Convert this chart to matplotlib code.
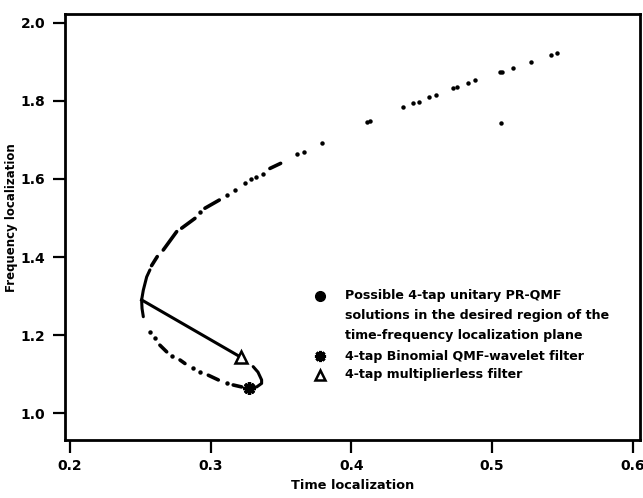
import matplotlib
matplotlib.use("Agg")
import matplotlib.pyplot as plt

plt.rcParams['font.family'] = ['DejaVu Sans']

# ---- data ----
# isolated solution dots (time, frequency)
dot_x = [0.2924, 0.3113, 0.3172, 0.3243, 0.3284, 0.3322, 0.3369, 0.3615, 0.3662, 0.3790,
         0.411, 0.413, 0.437, 0.444, 0.448, 0.455, 0.460, 0.472, 0.475, 0.483, 0.488,
         0.5055, 0.507, 0.515, 0.528, 0.542, 0.546, 0.506,
         0.2568, 0.2604, 0.2722, 0.2876, 0.2924, 0.3113]
dot_y = [1.515, 1.559, 1.572, 1.589, 1.599, 1.606, 1.613, 1.664, 1.670, 1.693,
         1.747, 1.749, 1.784, 1.794, 1.798, 1.809, 1.815, 1.833, 1.835, 1.847, 1.853,
         1.874, 1.875, 1.885, 1.901, 1.918, 1.922, 1.744,
         1.208, 1.192, 1.146, 1.115, 1.106, 1.078]

# short dashes (dense runs of solutions): start and end points
dash_x0 = [0.2580, 0.2663, 0.2794, 0.2959, 0.3421, 0.2639, 0.2782, 0.2983, 0.3160]
dash_y0 = [1.378, 1.418, 1.474, 1.525, 1.627, 1.174, 1.136, 1.097, 1.072]
dash_x1 = [0.2620, 0.2758, 0.2888, 0.3061, 0.3497, 0.2687, 0.2817, 0.3054, 0.3220]
dash_y1 = [1.401, 1.465, 1.499, 1.546, 1.640, 1.157, 1.127, 1.085, 1.067]

# continuous arc around the left vertex
arc_x = [0.2568, 0.2545, 0.2521, 0.2509, 0.2512, 0.2521]
arc_y = [1.367, 1.349, 1.315, 1.290, 1.268, 1.247]

# continuous tail at the right end of the loop
tail_x = [0.3302, 0.3336, 0.3362, 0.3362, 0.3327, 0.3272]
tail_y = [1.119, 1.105, 1.085, 1.076, 1.067, 1.065]

# solid line from the vertex to the multiplierless filter
line_x = [0.2509, 0.3215]
line_y = [1.290, 1.143]

binomial_x, binomial_y = [0.3272], [1.065]
multless_x, multless_y = [0.3215], [1.143]

xticks = [0.2, 0.3, 0.4, 0.5, 0.6]
yticks = [1.0, 1.2, 1.4, 1.6, 1.8, 2.0]

legend_lines = ["Possible 4-tap unitary PR-QMF",
                "solutions in the desired region of the",
                "time-frequency localization plane",
                "4-tap Binomial QMF-wavelet filter",
                "4-tap multiplierless filter"]

# ---- figure ----
fig = plt.figure(figsize=(6.43, 4.98), dpi=100)
ax = fig.add_axes([0.101, 0.1165, 0.894, 0.8555])

ax.plot(dot_x, dot_y, 'o', color='black', ms=3.2, mew=0)
for x0, y0, x1, y1 in zip(dash_x0, dash_y0, dash_x1, dash_y1):
    ax.plot([x0, x1], [y0, y1], '-', color='black', lw=2.6, solid_capstyle='round')
ax.plot(arc_x, arc_y, '-', color='black', lw=2.2, solid_capstyle='round')
ax.plot(tail_x, tail_y, '-', color='black', lw=2.2, solid_capstyle='round')
ax.plot(line_x, line_y, '-', color='black', lw=2.2)
ax.plot(binomial_x, binomial_y, marker=(8, 2, 0), color='black', ms=9, mew=2.4, ls='none')
ax.plot(multless_x, multless_y, '^', mfc='white', mec='black', ms=8, mew=1.8, ls='none')

ax.set_xlim(0.1964, 0.605)
ax.set_ylim(0.931, 2.023)
ax.set_xticks(xticks)
ax.set_xticklabels([f"{v:.1f}" for v in xticks], fontweight='bold')
ax.set_yticks(yticks)
ax.set_yticklabels([f"{v:.1f}" for v in yticks], fontweight='bold')
ax.tick_params(direction='out', length=9, width=1.6, labelsize=10, pad=5)
for s in ax.spines.values():
    s.set_linewidth(2.0)

ax.set_xlabel("Time localization", fontsize=9.3, fontweight='bold', labelpad=4)
ax.set_ylabel("Frequency localization", fontsize=8.5, fontweight='bold')
ax.yaxis.set_label_coords(-0.082, 0.521)

# legend drawn by hand
mx, tx = 0.4435, 0.487
rows = [0.338, 0.292, 0.245, 0.197, 0.153]
ax.plot([mx], [rows[0]], 'o', color='black', ms=7, transform=ax.transAxes)
ax.plot([mx], [rows[3]], marker=(8, 2, 0), color='black', ms=8, mew=2.2,
        transform=ax.transAxes)
ax.plot([mx], [rows[4]], '^', mfc='white', mec='black', ms=7.5, mew=1.8,
        transform=ax.transAxes)
for r, t in zip(rows, legend_lines):
    ax.text(tx, r, t, transform=ax.transAxes, fontsize=9.1, fontweight='bold',
            va='center', ha='left')

fig.savefig("out.png", dpi=100)
